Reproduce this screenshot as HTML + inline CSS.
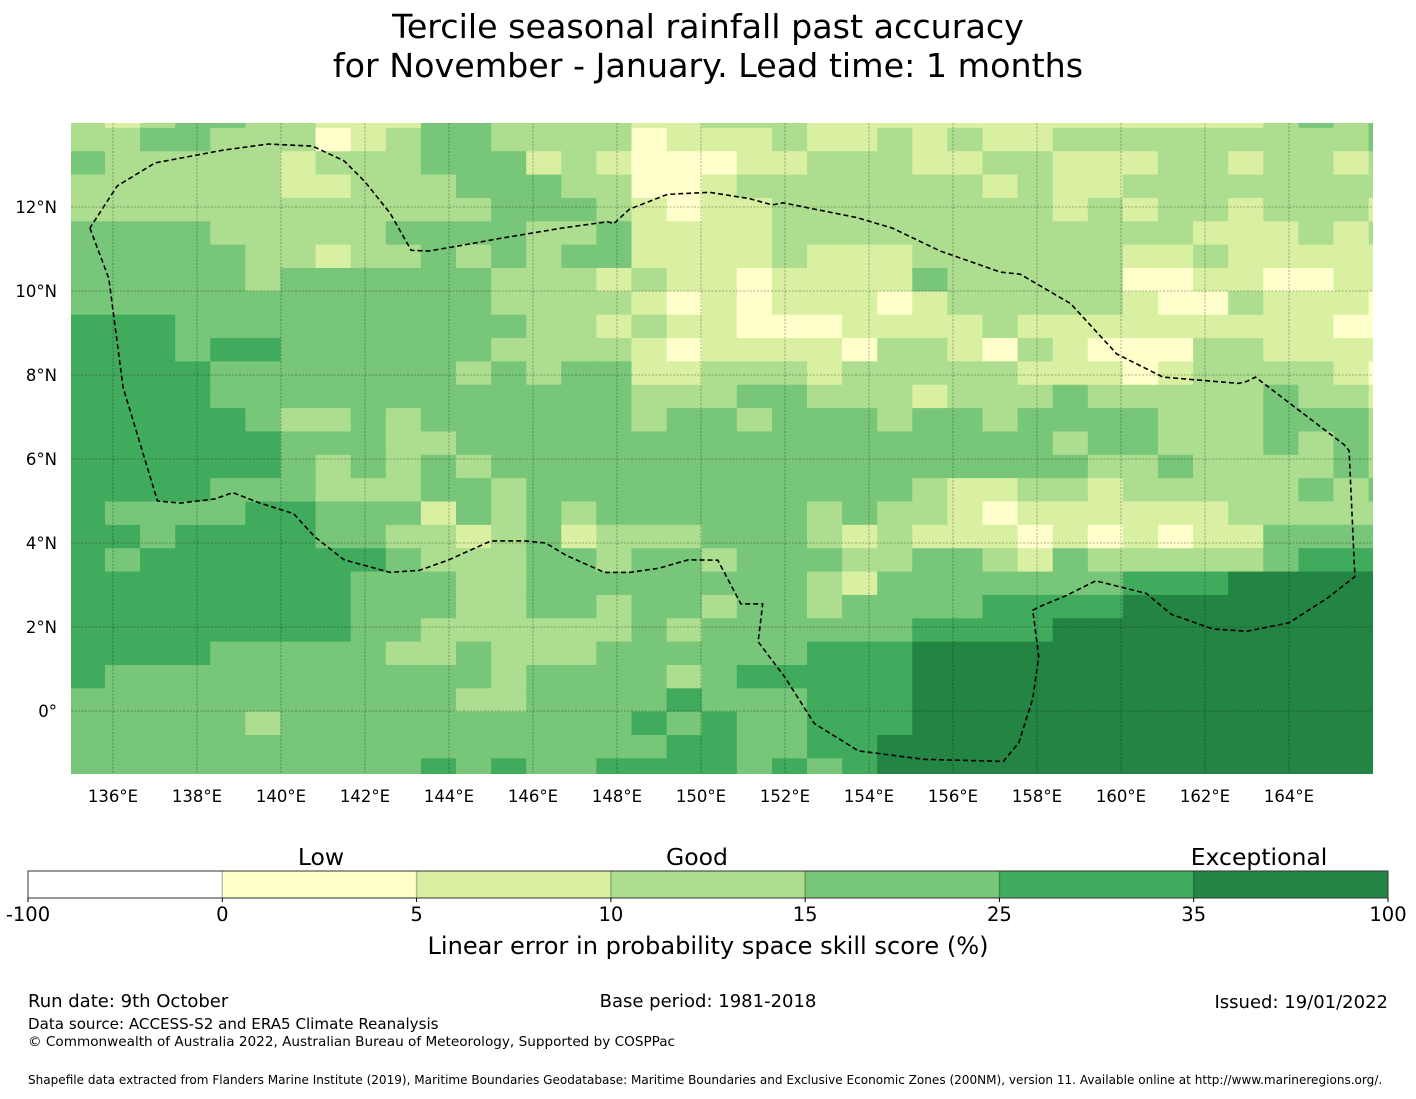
<!DOCTYPE html>
<html><head><meta charset="utf-8">
<style>
html,body{margin:0;padding:0;background:#fff;}
body{width:1416px;height:1095px;overflow:hidden;position:relative;font-family:"DejaVu Sans","Liberation Sans",sans-serif;color:#000;}
svg text{font-family:"DejaVu Sans","Liberation Sans",sans-serif;}
</style></head>
<body>
<svg id="fig" width="1416" height="1095" viewBox="0 0 1416 1095" xmlns="http://www.w3.org/2000/svg">
  <text x="708" y="38" font-size="33.3" text-anchor="middle">Tercile seasonal rainfall past accuracy</text>
  <text x="708" y="77" font-size="33.3" text-anchor="middle">for November - January. Lead time: 1 months</text>
  <defs><clipPath id="mapclip"><rect x="71" y="123" width="1302" height="651"/></clipPath></defs>
  <g id="cells" clip-path="url(#mapclip)"></g>
  <g id="grid" clip-path="url(#mapclip)"></g>
  <g id="eez" clip-path="url(#mapclip)"></g>
  <g id="xticks"></g>
  <g id="yticks"></g>
  <g id="cbar"></g>
  <text x="321" y="865" font-size="23.5" text-anchor="middle">Low</text>
  <text x="697" y="865" font-size="23.5" text-anchor="middle">Good</text>
  <text x="1259" y="865" font-size="23.5" text-anchor="middle">Exceptional</text>
  <text x="708" y="954" font-size="24.1" text-anchor="middle">Linear error in probability space skill score (%)</text>
  <text x="28" y="1007" font-size="18">Run date: 9th October</text>
  <text x="708" y="1007" font-size="18" text-anchor="middle">Base period: 1981-2018</text>
  <text x="1388" y="1008" font-size="18" text-anchor="end">Issued: 19/01/2022</text>
  <text x="28" y="1029" font-size="15.1">Data source: ACCESS-S2 and ERA5 Climate Reanalysis</text>
  <text x="28" y="1046" font-size="13.6">© Commonwealth of Australia 2022, Australian Bureau of Meteorology, Supported by COSPPac</text>
  <text x="28" y="1084" font-size="12.05">Shapefile data extracted from Flanders Marine Institute (2019), Maritime Boundaries Geodatabase: Maritime Boundaries and Exclusive Economic Zones (200NM), version 11. Available online at http://www.marineregions.org/.</text>
</svg>
<script>
// skill category per cell (0..6), rows north->south, columns west->east
const skillRows = [
"323443322244"+"333322333222"+"22222222223434",
"334433312344"+"333312223223"+"23223333333334",
"433333233344"+"423211122333"+"22332223323323",
"333333223334"+"443311233333"+"33232233333333",
"333333333333"+"444321223333"+"33332323323332",
"444433333444"+"433422223333"+"33333333222323",
"444443323343"+"434422223222"+"33333322322222",
"444443444444"+"333232212222"+"43333311221122",
"444444444444"+"333321212221"+"23333321132221",
"555444444444"+"433232211122"+"22322222222211",
"555455444444"+"333321222213"+"32132111332222",
"555544444443"+"434422333233"+"33322212333321",
"555544444444"+"444433344333"+"23334333334332",
"555554334344"+"444434434443"+"44344443334443",
"555555444334"+"444444444444"+"44443443334343",
"555555434343"+"444444444444"+"44444334333343",
"555544433344"+"344444444444"+"32233233333434",
"544445544424"+"343444444343"+"32122222233333",
"554555544332"+"342333444323"+"22212121224444",
"545555555433"+"344344344433"+"44324333334555",
"555555554443"+"344444444324"+"44444455566666",
"555555554443"+"344344344344"+"44555566666666",
"555555554433"+"333343444444"+"55556666666666",
"555544444334"+"333444444555"+"66666666666666",
"544444444444"+"344443455555"+"66666666666666",
"444444444443"+"344445444555"+"66666666666666",
"444443444444"+"444454544555"+"66666666666666",
"444444444444"+"444445544556"+"66666666666666",
"444444444454"+"544555545456"+"66666666666666"
];
const levelColors = ["#ffffff","#ffffcc","#d9f0a3","#addd8e","#78c679","#41ab5d","#238443"];
const cbarBounds = ["-100","0","5","10","15","25","35","100"];
const lonTicks = [136,138,140,142,144,146,148,150,152,154,156,158,160,162,164];
const latTicks = [12,10,8,6,4,2,0];
const eezLon = [135.45,135.9,136.24,137.06,137.6,138.43,138.85,139.5,140.3,140.8,141.5,142.6,143.3,144,145,145.8,146.3,146.8,147.7,148.3,149,149.7,150.4,150.95,151.47,151.36,152,152.7,153.75,155.3,157.2,157.57,157.9,158.04,157.9,158.1,158.7,159.4,160.6,161.2,162.2,163,164,164.93,165.57,165.43,165.3,163.2,163,162.8,161,159.9,158.8,157.6,157.13,155.7,154.55,153.7,152.7,151.96,151.7,151.15,150.2,149.2,148.3,147.92,147.78,146.7,145.2,144.1,143.5,143.1,142.6,142,141.5,140.75,139.7,138.6,137,136.1,135.45];
const eezLat = [11.5,10.3,7.7,5.0,4.95,5.05,5.2,4.95,4.7,4.15,3.6,3.3,3.35,3.6,4.05,4.05,4.0,3.7,3.3,3.3,3.4,3.6,3.59,2.55,2.55,1.65,0.8,-0.3,-0.95,-1.15,-1.2,-0.75,0.3,1.3,2.4,2.5,2.75,3.1,2.8,2.3,1.95,1.9,2.1,2.7,3.2,6.2,6.35,7.95,7.85,7.8,7.95,8.5,9.7,10.4,10.45,10.95,11.5,11.75,11.95,12.1,12.05,12.2,12.35,12.3,11.95,11.6,11.65,11.5,11.25,11.05,10.95,10.97,11.85,12.6,13.1,13.45,13.5,13.35,13.05,12.5,11.5];

const NS = "http://www.w3.org/2000/svg";
const lonStart = 134.974, latStart = 14.44, dLon = 0.8357, dLat = 0.556;
function xScale(lon){ return 113 + 42*(lon-136); }
function yScale(lat){ return 711 - 42*lat; }
function mk(tag, attrs, parent){ const e=document.createElementNS(NS,tag); for(const k in attrs) e.setAttribute(k,attrs[k]); parent.appendChild(e); return e; }

const cells = document.getElementById('cells');
skillRows.forEach((row, r) => {
  for (let c = 0; c < row.length; c++) {
    const lv = +row[c];
    const x0 = xScale(lonStart + c*dLon), x1 = xScale(lonStart + (c+1)*dLon);
    const y0 = yScale(latStart - r*dLat), y1 = yScale(latStart - (r+1)*dLat);
    const rect = mk('rect', {x:x0.toFixed(2), y:y0.toFixed(2), width:(x1-x0+0.4).toFixed(2), height:(y1-y0+0.4).toFixed(2), fill:levelColors[lv]}, cells);
    
    
  }
});

const grid = document.getElementById('grid');
lonTicks.forEach(lon => {
  const l = mk('line', {x1:xScale(lon), x2:xScale(lon), y1:123, y2:774, stroke:'rgba(0,0,0,0.3)', 'stroke-width':1, 'stroke-dasharray':'2,1.5'}, grid);
  
  
});
latTicks.forEach(lat => {
  const l = mk('line', {x1:71, x2:1373, y1:yScale(lat), y2:yScale(lat), stroke:'rgba(0,0,0,0.3)', 'stroke-width':1, 'stroke-dasharray':'2,1.5'}, grid);
  
  
});

const eez = document.getElementById('eez');
const pts = eezLon.map((lon,i)=> xScale(lon).toFixed(1)+','+yScale(eezLat[i]).toFixed(1)).join(' ');
const pl = mk('polyline', {points:pts, fill:'none', stroke:'#000', 'stroke-width':1.6, 'stroke-dasharray':'5,3', 'stroke-linejoin':'round'}, eez);



const xt = document.getElementById('xticks');
lonTicks.forEach(lon => {
  const t = mk('text', {x:xScale(lon), y:802, 'font-size':16.5, 'text-anchor':'middle'}, xt);
  t.textContent = lon + '°E';
  
  
});
const yt = document.getElementById('yticks');
latTicks.forEach(lat => {
  const t = mk('text', {x:57, y:yScale(lat)+6, 'font-size':16.5, 'text-anchor':'end'}, yt);
  t.textContent = lat === 0 ? '0°' : lat + '°N';
  
  
});

const cb = document.getElementById('cbar');
const cbX = 28, cbW = 1360, cbY = 871, cbH = 27, seg = cbW/(cbarBounds.length-1);
levelColors.forEach((col, i) => {
  const r = mk('rect', {x:cbX+i*seg, y:cbY, width:seg+0.3, height:cbH, fill:col}, cb);
  
  
  if (i>0) {
    const d = mk('line', {x1:cbX+i*seg, x2:cbX+i*seg, y1:cbY, y2:cbY+cbH, stroke:'rgba(0,0,0,0.25)', 'stroke-width':1.5}, cb);
    
    
  }
});
const outline = mk('rect', {x:cbX, y:cbY, width:cbW, height:cbH, fill:'none', stroke:'#333', 'stroke-width':1}, cb);


cbarBounds.forEach((b, i) => {
  const tk = mk('line', {x1:cbX+i*seg, x2:cbX+i*seg, y1:cbY+cbH, y2:cbY+cbH+4, stroke:'#000', 'stroke-width':1}, cb);
  
  
  const t = mk('text', {x:cbX+i*seg, y:921, 'font-size':19.5, 'text-anchor':'middle'}, cb);
  t.textContent = b;
  
  
});
</script>
</body></html>
